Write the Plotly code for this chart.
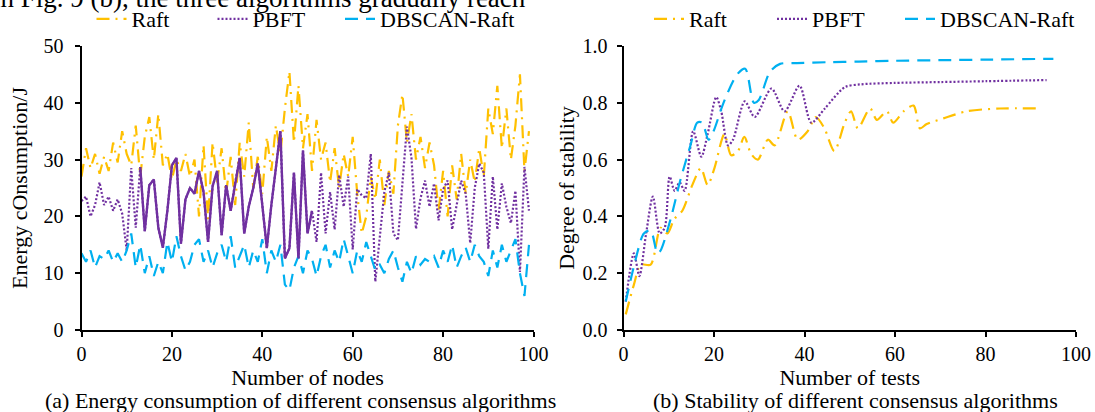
import plotly.graph_objects as go

W, H = 1095, 412
FONT = "Liberation Serif"

# ---------------- (a) Energy consumption ----------------
nodes = list(range(0, 100))
raft_energy = [27, 32, 28.5, 31, 27.5, 30.5, 28, 33, 29.5, 35,
               31, 29, 36, 27, 34, 37.5, 30, 38, 29, 31,
               26.5, 30, 28, 31, 27, 30, 20, 32.5, 19.5, 33,
               26, 32, 24, 30.5, 22, 33, 27, 36.5, 25, 30.5,
               24, 34, 28, 36, 31, 39, 45.5, 33, 43, 32,
               38, 28, 37, 30, 33, 26, 32, 25, 31, 27,
               34, 24, 17, 20, 27, 23, 30, 22, 28, 24,
               36, 41.5, 33, 38, 30, 34, 28.5, 33, 29, 21,
               28, 20, 29, 23, 31, 24, 30, 26, 32, 27,
               39, 34.5, 43, 32, 39, 30, 36, 45, 28, 35]
pbft_energy = [22.7, 23.5, 20, 22, 26, 22, 23.5, 21, 23, 20.5,
               14, 28.5, 18, 28.7, 17.4, 25.5, 26.5, 18, 14.5, 21,
               29, 30.3, 15.2, 23, 25, 24, 28, 24.3, 15.5, 25.3,
               28, 16.7, 25.5, 21, 26, 30.3, 17, 21.7, 25, 29.3,
               22, 14.4, 22, 28, 35, 12.6, 14.4, 27.7, 12.6, 31.6,
               17, 21, 15.5, 27.7, 17, 24.3, 17.7, 27.3, 21.7, 27,
               14.2, 24.8, 23.7, 23.2, 31, 8.5, 16, 24.3, 27.7, 17,
               15.8, 26.3, 35.8, 30.3, 17.8, 23.2, 26.3, 21.7, 25.8, 19.3,
               24.8, 26.3, 17.7, 22, 26.3, 24, 15.3, 25, 29.3, 27.7,
               14.3, 27, 17.7, 25.8, 21.7, 18.8, 24.5, 10.2, 28.7, 21]
dbscan_energy = [13.5, 12, 14, 11, 13, 12.5, 14, 12, 13.5, 12,
                 14, 17, 11, 15, 10, 13, 9.5, 12, 10, 15.5,
                 12, 16.5, 13, 10.5, 12, 15, 16, 12, 14, 11,
                 13.5, 15, 12, 16.5, 11, 13, 15, 11, 14, 12,
                 16, 10, 14, 12, 15, 8, 7, 11, 13, 10,
                 14, 12.5, 9.5, 13, 15, 11, 14, 12, 16, 13,
                 10, 14, 12, 15.5, 13, 10.5, 11.5, 10, 12.5, 14,
                 11, 8.5, 12, 10, 13, 11.5, 12.5, 12, 13, 11,
                 14, 12, 15, 11, 13, 14.5, 12, 15, 13, 12,
                 9.5, 14, 11, 15, 12, 14, 16, 10, 6, 15]
pbft_solid_start, pbft_solid_end = 13, 52  # segment drawn solid in the original

# ---------------- (b) Stability ----------------
raft_x = [0.5, 2.3, 3.8, 6, 8.2, 9.7, 11.2, 13, 15.2, 17.1, 18.6, 20.1, 22.3, 23.8,
          25.3, 26.7, 28.2, 29.7, 31.9, 33.4, 36.3, 38.5, 40.7, 42.5, 44.4, 46.6,
          48.9, 50.3, 51.8, 54.5, 56, 58.2, 59.6, 61.9, 64.1, 65.5, 67, 70.7, 75.8,
          83.2, 92]
raft_y = [0.055, 0.16, 0.23, 0.23, 0.36, 0.34, 0.39, 0.42, 0.51, 0.57, 0.51, 0.57,
          0.69, 0.615, 0.63, 0.68, 0.62, 0.60, 0.67, 0.65, 0.77, 0.67, 0.70, 0.75,
          0.71, 0.63, 0.73, 0.77, 0.71, 0.78, 0.74, 0.77, 0.73, 0.77, 0.79, 0.71,
          0.725, 0.745, 0.77, 0.78, 0.78]
pbft_x = [0.5, 2.3, 3.5, 5, 6.5, 8, 9.1, 10.2, 11.3, 12.4, 13.5, 15.4, 17.2, 18.6,
          20.5, 21.6, 23.1, 24.2, 26.8, 29, 32.7, 35.6, 38.9, 41.5, 44.5, 48.9,
          52.5, 60, 70, 80, 93.5]
pbft_y = [0.10, 0.27, 0.19, 0.34, 0.47, 0.34, 0.36, 0.54, 0.49, 0.52, 0.49, 0.70,
          0.61, 0.69, 0.82, 0.77, 0.65, 0.67, 0.805, 0.75, 0.85, 0.77, 0.86, 0.73,
          0.78, 0.855, 0.865, 0.87, 0.873, 0.876, 0.88]
dbscan_x = [0.5, 2.7, 4.5, 6, 7.5, 8.2, 10.4, 12.6, 14.8, 16.3, 17.4, 18.8, 19.9,
            22.1, 25.1, 26.9, 28.8, 29.9, 32.4, 34.6, 38.3, 45, 52, 60, 70, 80, 95]
dbscan_y = [0.10, 0.25, 0.34, 0.35, 0.27, 0.28, 0.39, 0.53, 0.65, 0.73, 0.73, 0.67,
            0.70, 0.80, 0.90, 0.92, 0.80, 0.81, 0.91, 0.937, 0.940, 0.943, 0.945,
            0.948, 0.950, 0.952, 0.955]

names = ["Raft", "PBFT", "DBSCAN-Raft"]
colors = ["#FFC000", "#7030A0", "#00B0F0"]
dashes = ["13px,6px,2px,6px", "2px,2px", "13px,8px"]
# legend text start positions (px) in the reference, left panel then right panel
legend_left_px = [135.5, 256.5, 384]
legend_right_px = [693, 816, 944]

fig = go.Figure()

# left panel
for i, (nm, col, ds, ys) in enumerate(zip(names, colors, dashes,
                                          [raft_energy, pbft_energy, dbscan_energy])):
    fig.add_trace(go.Scatter(x=nodes, y=ys, mode="lines", name=nm,
                             line=dict(color=col, dash=ds, width=2.2),
                             xaxis="x", yaxis="y",
                             legend="legend" if i == 0 else f"legend{i + 1}"))
fig.add_trace(go.Scatter(x=nodes[pbft_solid_start:pbft_solid_end],
                         y=pbft_energy[pbft_solid_start:pbft_solid_end],
                         mode="lines", name="PBFT", showlegend=False,
                         line=dict(color=colors[1], width=2.4),
                         xaxis="x", yaxis="y"))

# right panel
for i, (nm, col, ds, xs, ys) in enumerate(zip(names, colors, dashes,
                                              [raft_x, pbft_x, dbscan_x],
                                              [raft_y, pbft_y, dbscan_y])):
    fig.add_trace(go.Scatter(x=xs, y=ys, mode="lines", name=nm,
                             line=dict(color=col, dash=ds, width=2.2, shape="spline", smoothing=0.8),
                             xaxis="x2", yaxis="y2", legend=f"legend{i + 4}"))

ax_common = dict(showline=True, linecolor="black", linewidth=1.8, ticks="outside",
                 ticklen=5, tickwidth=1.5, tickcolor="black", showgrid=False,
                 zeroline=False, tickfont=dict(family=FONT, size=20, color="black"),
                 title_font=dict(family=FONT, size=22, color="black"))


def legend_at(px):
    return dict(orientation="h", x=(px - 44) / W, xanchor="left", y=(H - 19) / H,
                yanchor="middle", font=dict(family=FONT, size=22, color="black"),
                bgcolor="rgba(0,0,0,0)")


ydom = [(H - 330) / H, (H - 46) / H]
layout = dict(
    width=W, height=H, margin=dict(l=0, r=0, t=0, b=0, autoexpand=False),
    paper_bgcolor="white", plot_bgcolor="white",
    font=dict(family=FONT, color="black"),
    xaxis=dict(domain=[81.5 / W, 533.5 / W], range=[0, 100], tickvals=[0, 20, 40, 60, 80, 100],
               anchor="y", title=dict(text="Number of nodes", standoff=0), **ax_common),
    yaxis=dict(domain=ydom, range=[0, 50], tickvals=[0, 10, 20, 30, 40, 50], anchor="x",
               ticklabelstandoff=7,
               title=dict(text="Energy cOnsumption/J", standoff=10), **ax_common),
    xaxis2=dict(domain=[623.5 / W, 1076 / W], range=[0, 100], tickvals=[0, 20, 40, 60, 80, 100],
                anchor="y2", title=dict(text="Number of tests", standoff=0), **ax_common),
    yaxis2=dict(domain=ydom, range=[0, 1], tickvals=[0, 0.2, 0.4, 0.6, 0.8, 1.0],
                tickformat=".1f", anchor="x2", ticklabelstandoff=5,
                title=dict(text="Degree of stability", standoff=2), **ax_common),
    annotations=[
        dict(text="(a) Energy consumption of different consensus algorithms", x=300 / W,
             y=(H - 400) / H, xref="paper", yref="paper", xanchor="center", yanchor="middle",
             showarrow=False, font=dict(family=FONT, size=22, color="black")),
        dict(text="(b) Stability of different consensus algorithms", x=855 / W,
             y=(H - 400) / H, xref="paper", yref="paper", xanchor="center", yanchor="middle",
             showarrow=False, font=dict(family=FONT, size=22, color="black")),
        dict(text="in Fig. 9 (b), the three algorithms gradually reach", x=528 / W,
             y=1 + 2 / H, xref="paper", yref="paper", xanchor="right", yanchor="middle",
             showarrow=False, font=dict(family=FONT, size=27, color="black")),
    ],
)
for i, px in enumerate(legend_left_px + legend_right_px):
    layout["legend" if i == 0 else f"legend{i + 1}"] = legend_at(px)

fig.update_layout(**layout)
fig.write_html("out.html", config={"displayModeBar": False},
               post_script="document.body.style.margin='0';document.body.style.overflow='hidden';")
